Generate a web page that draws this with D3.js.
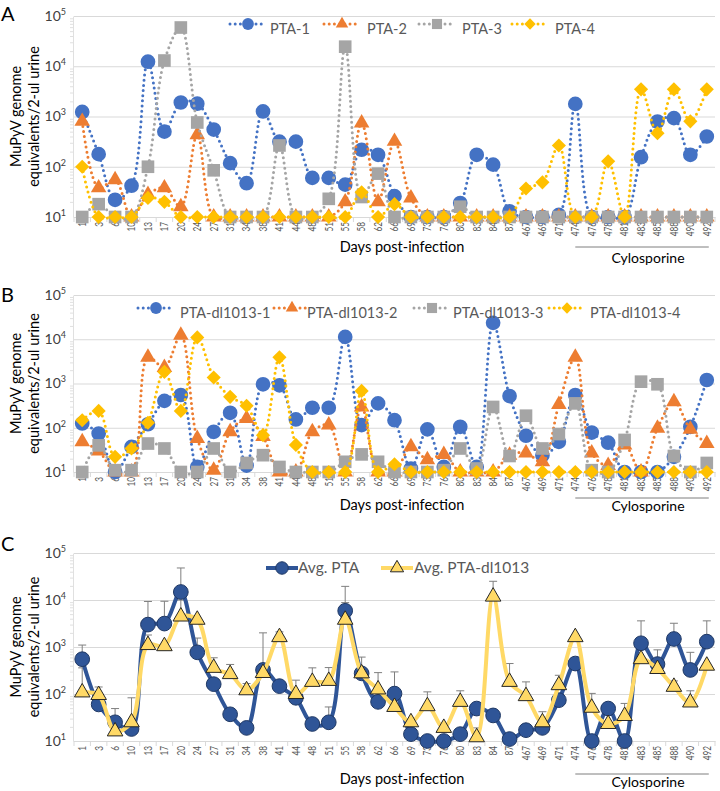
<!DOCTYPE html>
<html><head><meta charset="utf-8">
<script src="https://cdn.jsdelivr.net/npm/d3@7"></script>
<style>body{margin:0;background:#fff} text{font-family:Lato,"Open Sans",sans-serif}</style>
</head><body><svg id="c" width="720" height="791"></svg>
<script>
const days = ["1","3","6","10","13","17","20","24","27","31","34","38","41","44","48","51","55","58","62","66","69","73","76","80","83","84","87","467","469","471","474","476","478","481","483","485","488","490","492"];

const pta1 = [1230,178,22,42,12300,500,1900,1800,550,118,47,1260,316,316,60,60,44,218,173,26,10,10,10,19,173,110,13,10,10,11,1780,10,10,10,155,795,930,173,400];
const pta2 = [800,38,55,10,28,38,16,435,10,10,10,10,10,10,10,10,20,740,20,320,24,10,10,10,10,10,10,10,10,10,10,10,10,10,10,10,10,10,10];
const pta3 = [10,18,10,10,100,13000,59000,760,85,10,10,10,265,10,10,23,24500,25,73,10,10,10,10,16,10,10,10,10,10,10,10,10,10,10,10,10,10,10,10];
const pta4 = [100,10,10,10,24,20,10,10,10,10,10,10,10,10,10,10,10,31,10,18,10,10,10,10,10,10,10,37,49,265,10,10,128,10,3470,466,3470,800,3470];

const dl1 = [125,74,10,37,120,405,550,13,81,218,14,960,910,154,283,283,11300,115,355,148,12,92,13,105,13,23500,520,66,24,48,550,78,46,10,10,10,22,105,1200];
const dl2 = [48,30,10,10,3900,2300,12300,57,11,81,162,63,10,10,81,115,10,295,10,10,37,19,25,10,10,10,24,27,17,337,3900,27,14,41,10,97,385,92,44];
const dl3 = [10,40,11,11,44,34,10,10,34,10,16,24,13,10,10,10,17,25,17,10,10,10,11,34,12,295,23,187,34,72,355,11,10,53,1100,960,23,10,16];
const dl4 = [148,240,22,34,130,1830,240,11000,1370,500,315,68,3900,41,10,10,10,680,10,15,10,10,10,10,10,10,10,10,10,10,10,10,10,10,10,10,10,10,10];

const avgPTA = [550,60,25,18,3000,3150,14800,770,162,37,19,325,147,83,23,25,5900,275,68,102,14,10,10,14,49,35,11,17,19,74,445,10,49,10,1200,433,1480,325,1300];
const avgDL  = [108,95,16,25,1100,1040,4450,3800,360,265,120,280,1620,100,181,190,3800,275,125,53,25,55,19,68,12,11800,181,90,25,154,1620,51,23,34,550,340,142,66,400];
const errPTA = [1100,null,49,null,9300,9400,48000,1550,null,null,null,2000,null,null,null,53,19500,null,null,295,null,null,null,null,null,null,null,null,null,null,null,null,null,null,3600,870,3200,770,3600];
const errDL  = [360,141,null,83,1800,null,10000,null,590,425,167,null,2100,197,360,365,8800,610,285,null,null,111,null,117,19,25000,445,181,42,250,null,103,null,63,null,null,190,117,null];

const yTicks = [10,100,1000,10000,100000];
const namesA = ["PTA-1","PTA-2","PTA-3","PTA-4"];
const namesB = ["PTA-dl1013-1","PTA-dl1013-2","PTA-dl1013-3","PTA-dl1013-4"];
const namesC = ["Avg. PTA","Avg. PTA-dl1013"];
const yTitle = ["MuPyV genome","equivalents/2-ul urine"];
const xTitle = "Days post-infection";
const cylLabel = "Cylosporine";

const svg = d3.select("#c");
const X0 = 74, X1 = 715;
const x = d3.scaleBand().domain(days).range([X0, X1]);
const bw = x.bandwidth();
const cx = d => x(d) + bw/2;

const colors4 = ["#4472C4","#ED7D31","#A5A5A5","#FFC000"];
const shapes = ["circle","triangle","square","diamond"];

function marker(g, shape, px, py, fill, stroke, scale){
  scale = scale||1;
  let sym;
  if(shape==="circle") sym = d3.symbol(d3.symbolCircle, 170*scale*scale);
  else if(shape==="triangle") sym = d3.symbol(d3.symbolTriangle, 105*scale*scale);
  else if(shape==="square") sym = d3.symbol(d3.symbolSquare, 160*scale*scale);
  else sym = d3.symbol(d3.symbolSquare, 100*scale*scale);
  const p = g.append("path").attr("d", sym())
    .attr("transform", `translate(${px},${py})` + (shape==="diamond" ? " rotate(45)" : ""))
    .attr("fill", fill);
  if(stroke) p.attr("stroke", stroke).attr("stroke-width", 1);
  else p.attr("stroke","none");
  return p;
}

function frame(cfg){
  const g = svg.append("g");
  const y = d3.scaleLog().domain([10,1e5]).range([cfg.bottom, cfg.top]);
  const grid = g.append("g").attr("transform",`translate(${X0},0)`)
    .call(d3.axisLeft(y).tickValues(yTicks).tickSize(-(X1-X0)).tickFormat(""));
  grid.select(".domain").remove();
  grid.selectAll("line").attr("stroke","#d9d9d9");
  const minors = [];
  for(let e=1;e<5;e++) for(let k=2;k<10;k++) minors.push(k*Math.pow(10,e));
  const ya = g.append("g").attr("transform",`translate(${X0-1},0)`)
    .call(d3.axisLeft(y).tickValues(minors).tickSize(3).tickSizeOuter(0).tickFormat(""));
  ya.selectAll("line,path").attr("stroke","#e0e0e0");
  const yl = g.append("g").attr("transform",`translate(${X0-1},0)`)
    .call(d3.axisLeft(y).tickValues(yTicks).tickSize(0).tickPadding(7).tickFormat(""));
  yl.select(".domain").remove();
  yl.selectAll("text").attr("font-size",14).attr("fill","#404040").attr("font-family","Lato")
    .each(function(d){
      const t = d3.select(this);
      t.append("tspan").text("10");
      t.append("tspan").attr("dy",-6).attr("font-size",9).text(Math.round(Math.log10(d)));
    });
  const xa = g.append("g").attr("transform",`translate(0,${cfg.bottom})`)
    .call(d3.axisBottom(x).tickSize(0).tickSizeOuter(0));
  xa.select(".domain").attr("stroke","#d9d9d9");
  xa.selectAll("text").attr("font-size",11).attr("fill","#595959").attr("font-family","Lato")
    .attr("x",0).attr("y",0).attr("dy","0.35em").attr("text-anchor","end")
    .attr("transform",`translate(0,${cfg.labelTop-cfg.bottom}) rotate(-90) scale(0.75,1)`);
  for(let i=0;i<=days.length;i++){
    g.append("line").attr("x1",X0+i*bw).attr("x2",X0+i*bw)
      .attr("y1",cfg.bottom).attr("y2",cfg.bottom+5).attr("stroke","#d9d9d9");
  }
  g.append("text").attr("x",402).attr("y",cfg.titleY).attr("text-anchor","middle")
    .attr("font-size",14.5).attr("fill","#000").text(xTitle);
  const midY = (cfg.top+cfg.bottom)/2;
  yTitle.forEach((t,i)=>{
    g.append("text").attr("transform",`translate(${16+i*18},${midY}) rotate(-90)`)
      .attr("text-anchor","middle").attr("dy","0.35em").attr("font-size",14.5).attr("fill","#000").text(t);
  });
  g.append("text").attr("x",1).attr("y",cfg.letterY).attr("font-size",20).attr("fill","#000").text(cfg.letter);
  const c0 = cx("474"), c1 = cx("492")+2;
  g.append("line").attr("x1",c0).attr("x2",c1).attr("y1",cfg.cylLine).attr("y2",cfg.cylLine)
    .attr("stroke","#7f7f7f").attr("stroke-width",1);
  g.append("text").attr("x",(c0+c1)/2+6).attr("y",cfg.cylText).attr("text-anchor","middle")
    .attr("font-size",14).attr("fill","#000").text(cylLabel);
  return {g,y};
}

function dotted(cfg, series, names){
  const {g,y} = frame(cfg);
  const line = d3.line().x((d,i)=>cx(days[i])).y(d=>y(d)).curve(d3.curveCatmullRom.alpha(0.5));
  series.forEach((s,k)=>{
    g.append("path").attr("d", line(s)).attr("fill","none").attr("stroke",colors4[k])
      .attr("stroke-width",3).attr("stroke-dasharray","0,5.2").attr("stroke-linecap","round");
    s.forEach((v,i)=> marker(g, shapes[k], cx(days[i]), y(v), colors4[k]));
  });
  names.forEach((n,k)=>{
    const mx = cfg.legMx[k], ly = cfg.legendY;
    g.append("line").attr("x1",mx-18).attr("x2",mx+18).attr("y1",ly).attr("y2",ly)
      .attr("stroke",colors4[k]).attr("stroke-width",3).attr("stroke-dasharray","0,5.2").attr("stroke-linecap","round");
    marker(g, shapes[k], mx, ly, colors4[k], null, 0.8);
    g.append("text").attr("x",cfg.legTx[k]).attr("y",ly+cfg.legDy).attr("dy","0.35em")
      .attr("font-size",14.5).attr("fill","#595959").text(n);
  });
}

dotted({top:16,bottom:217,labelTop:222,titleY:252,cylLine:247,cylText:263,letterY:21,letter:"A",
  legendY:24,legDy:5,legMx:[248,342,437,530],legTx:[270,367,462,555]}, [pta1,pta2,pta3,pta4], namesA);

dotted({top:295,bottom:472,labelTop:477,titleY:510,cylLine:498,cylText:511,letterY:302,letter:"B",
  legendY:308,legDy:5,legMx:[156,292,432,567],legTx:[180,307,453,590]}, [dl1,dl2,dl3,dl4], namesB);

(function(){
  const cfg = {top:553,bottom:741,labelTop:746,titleY:784,cylLine:774,cylText:787,letterY:551,letter:"C"};
  const {g,y} = frame(cfg);
  const line = d3.line().x((d,i)=>cx(days[i])).y(d=>y(d)).curve(d3.curveCatmullRom.alpha(0.5));
  const eg = g.append("g");
  [[avgPTA,errPTA],[avgDL,errDL]].forEach(([s,e])=>{
    e.forEach((t,i)=>{
      if(t==null) return;
      const px = cx(days[i]);
      eg.append("line").attr("x1",px).attr("x2",px).attr("y1",y(s[i])).attr("y2",y(t)).attr("stroke","#7f7f7f");
      eg.append("line").attr("x1",px-4).attr("x2",px+4).attr("y1",y(t)).attr("y2",y(t)).attr("stroke","#7f7f7f");
    });
  });
  const sty = [{c:"#2F5597",f:"#2F5597",s:"#1F3864",shape:"circle"},{c:"#FFD966",f:"#FFD966",s:"#262626",shape:"triangle"}];
  [avgPTA,avgDL].forEach((s,k)=>{
    g.append("path").attr("d",line(s)).attr("fill","none").attr("stroke",sty[k].c).attr("stroke-width",4);
    s.forEach((v,i)=> marker(g, sty[k].shape, cx(days[i]), y(v), sty[k].f, sty[k].s));
  });
  const legMx = [282,397], legTx = [298,414], ly = 568;
  namesC.forEach((n,k)=>{
    g.append("line").attr("x1",legMx[k]-16).attr("x2",legMx[k]+16).attr("y1",ly).attr("y2",ly)
      .attr("stroke",sty[k].c).attr("stroke-width",4);
    marker(g, sty[k].shape, legMx[k], ly, sty[k].f, sty[k].s, 0.85);
    g.append("text").attr("x",legTx[k]).attr("y",ly).attr("dy","0.35em")
      .attr("font-size",15.5).attr("fill","#595959").text(n);
  });
})();
</script></body></html>
